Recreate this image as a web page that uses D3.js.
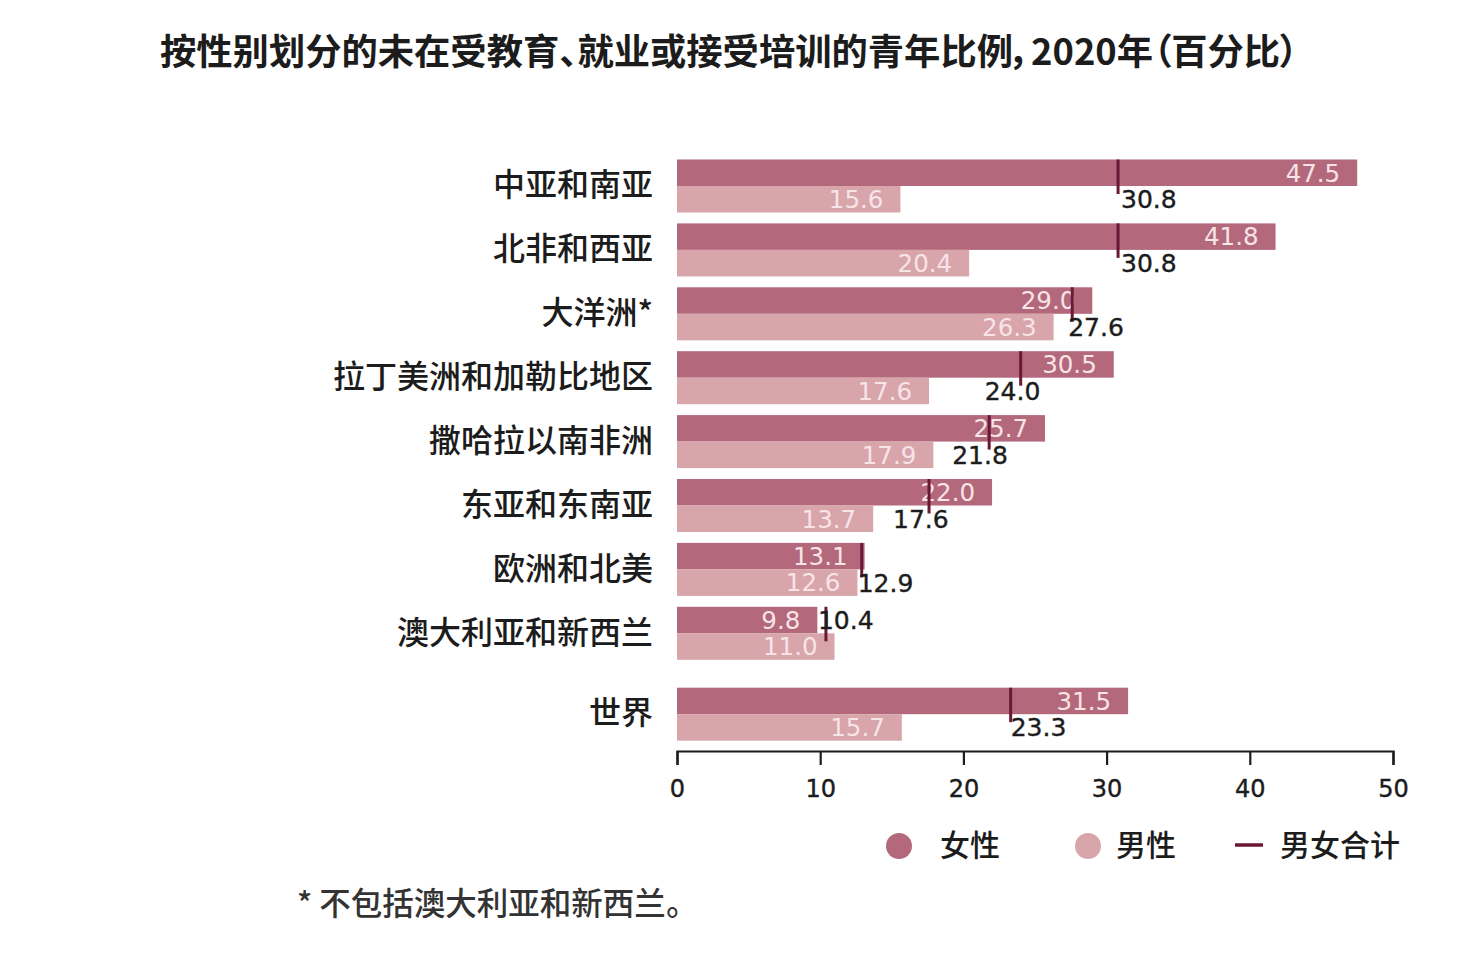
<!DOCTYPE html>
<html><head><meta charset="utf-8">
<script src="https://cdn.jsdelivr.net/npm/d3@7"></script>
<style>
html,body{margin:0;padding:0;background:#fff;}
svg{display:block;}
</style></head>
<body>
<svg id="chart" width="1472" height="972"></svg>
<script>
// ---- data ----
const categories = ["中亚和南亚","北非和西亚","大洋洲*","拉丁美洲和加勒比地区","撒哈拉以南非洲","东亚和东南亚","欧洲和北美","澳大利亚和新西兰","世界"];
const female = [47.5, 41.8, 29.0, 30.5, 25.7, 22.0, 13.1, 9.8, 31.5];
const male   = [15.6, 20.4, 26.3, 17.6, 17.9, 13.7, 12.6, 11.0, 15.7];
const total  = [30.8, 30.8, 27.6, 24.0, 21.8, 17.6, 12.9, 10.4, 23.3];
const xTicks = [0, 10, 20, 30, 40, 50];
const legendLabels = ["女性", "男性", "男女合计"];
const titleText = "按性别划分的未在受教育、就业或接受培训的青年比例，2020年（百分比）";
const noteText = "* 不包括澳大利亚和新西兰。";

// ---- layout / style ----
const totalLabelDx = [3, 3, -4, -36, -37, -36, -4, -8, 0];
const totalLabelRow = ["m","m","m","m","m","m","m","f","m"];
const C = {female:"#b4687b", male:"#d8a5ab", total:"#6b1736", inLabel:"#f7e4e8", text:"#1c1c1c"};
const numFont = "'DejaVu Sans', sans-serif";
const cjkFont = "'Noto Sans CJK SC', sans-serif";
const barH = 26.5;

const svg = d3.select("#chart");
const x = d3.scaleLinear().domain([0, 50]).range([677, 1393]);
const rowY = d3.scaleLinear().domain([0, 1]).range([186, 249.9]);
const yOf = i => rowY(i) + (i === 8 ? 17 : 0);

// title
svg.append("text").attr("x", 160).attr("y", 65)
  .attr("font-family", cjkFont).attr("font-weight", 700).attr("font-size", 36.3)
  .style("font-feature-settings", "'palt'")
  .attr("fill", C.text).text(titleText);

const rows = svg.append("g").selectAll("g").data(categories).join("g")
  .attr("transform", (d, i) => `translate(0,${yOf(i)})`);

rows.append("rect").attr("x", x(0)).attr("y", -barH)
  .attr("width", (d, i) => x(female[i]) - x(0)).attr("height", barH).attr("fill", C.female);
rows.append("rect").attr("x", x(0)).attr("y", 0)
  .attr("width", (d, i) => x(male[i]) - x(0)).attr("height", barH).attr("fill", C.male);

// category labels
rows.append("text").attr("x", 653).attr("y", -1).attr("dy", "0.35em")
  .attr("text-anchor", "end").attr("font-family", cjkFont).attr("font-weight", 500)
  .attr("font-size", 32).attr("fill", C.text).text(d => d);

// value labels inside bars
rows.append("text").attr("x", (d, i) => x(female[i]) - 17).attr("y", -barH / 2).attr("dy", "0.36em")
  .attr("text-anchor", "end").attr("font-family", numFont).attr("font-size", 24.5)
  .attr("fill", C.inLabel).text((d, i) => female[i].toFixed(1));
rows.append("text").attr("x", (d, i) => x(male[i]) - 17).attr("y", barH / 2).attr("dy", "0.36em")
  .attr("text-anchor", "end").attr("font-family", numFont).attr("font-size", 24.5)
  .attr("fill", C.inLabel).text((d, i) => male[i].toFixed(1));

// total markers
rows.append("line").attr("x1", (d, i) => x(total[i])).attr("x2", (d, i) => x(total[i]))
  .attr("y1", -barH).attr("y2", 8).attr("stroke", C.total).attr("stroke-width", 3);
rows.append("text").attr("x", (d, i) => x(total[i]) + totalLabelDx[i])
  .attr("y", (d, i) => totalLabelRow[i] === "m" ? barH / 2 : -barH / 2).attr("dy", "0.36em")
  .attr("font-family", numFont).attr("font-size", 25).attr("fill", C.text)
  .attr("stroke", C.text).attr("stroke-width", 0.4)
  .text((d, i) => total[i].toFixed(1));

// x axis
const axis = svg.append("g").attr("transform", "translate(0,751)")
  .call(d3.axisBottom(x).tickValues(xTicks).tickSize(14).tickSizeOuter(14).tickPadding(15).tickFormat(d3.format("d")));
axis.select(".domain").attr("stroke", C.text).attr("stroke-width", 2.2);
axis.selectAll(".tick line").attr("stroke", C.text).attr("stroke-width", 2.2);
axis.selectAll(".tick text").attr("font-family", numFont).attr("font-size", 24).attr("fill", C.text)
  .attr("stroke", C.text).attr("stroke-width", 0.4);

// legend
const lg = svg.append("g");
lg.append("circle").attr("cx", 899).attr("cy", 846).attr("r", 13).attr("fill", C.female);
lg.append("circle").attr("cx", 1088).attr("cy", 846).attr("r", 13).attr("fill", C.male);
lg.append("line").attr("x1", 1235).attr("x2", 1263).attr("y1", 845).attr("y2", 845)
  .attr("stroke", C.total).attr("stroke-width", 3.5);
const legX = [940, 1116, 1280];
lg.selectAll("text").data(legendLabels).join("text")
  .attr("x", (d, i) => legX[i]).attr("y", 845).attr("dy", "0.35em")
  .attr("font-family", cjkFont).attr("font-weight", 500).attr("font-size", 30)
  .attr("fill", C.text).text(d => d);

// footnote
svg.append("text").attr("x", 297).attr("y", 904).attr("dy", "0.35em")
  .attr("font-family", cjkFont).attr("font-weight", 500).attr("font-size", 31.5)
  .style("font-feature-settings", "'palt'")
  .attr("fill", "#333").text(noteText);
</script>
</body></html>
